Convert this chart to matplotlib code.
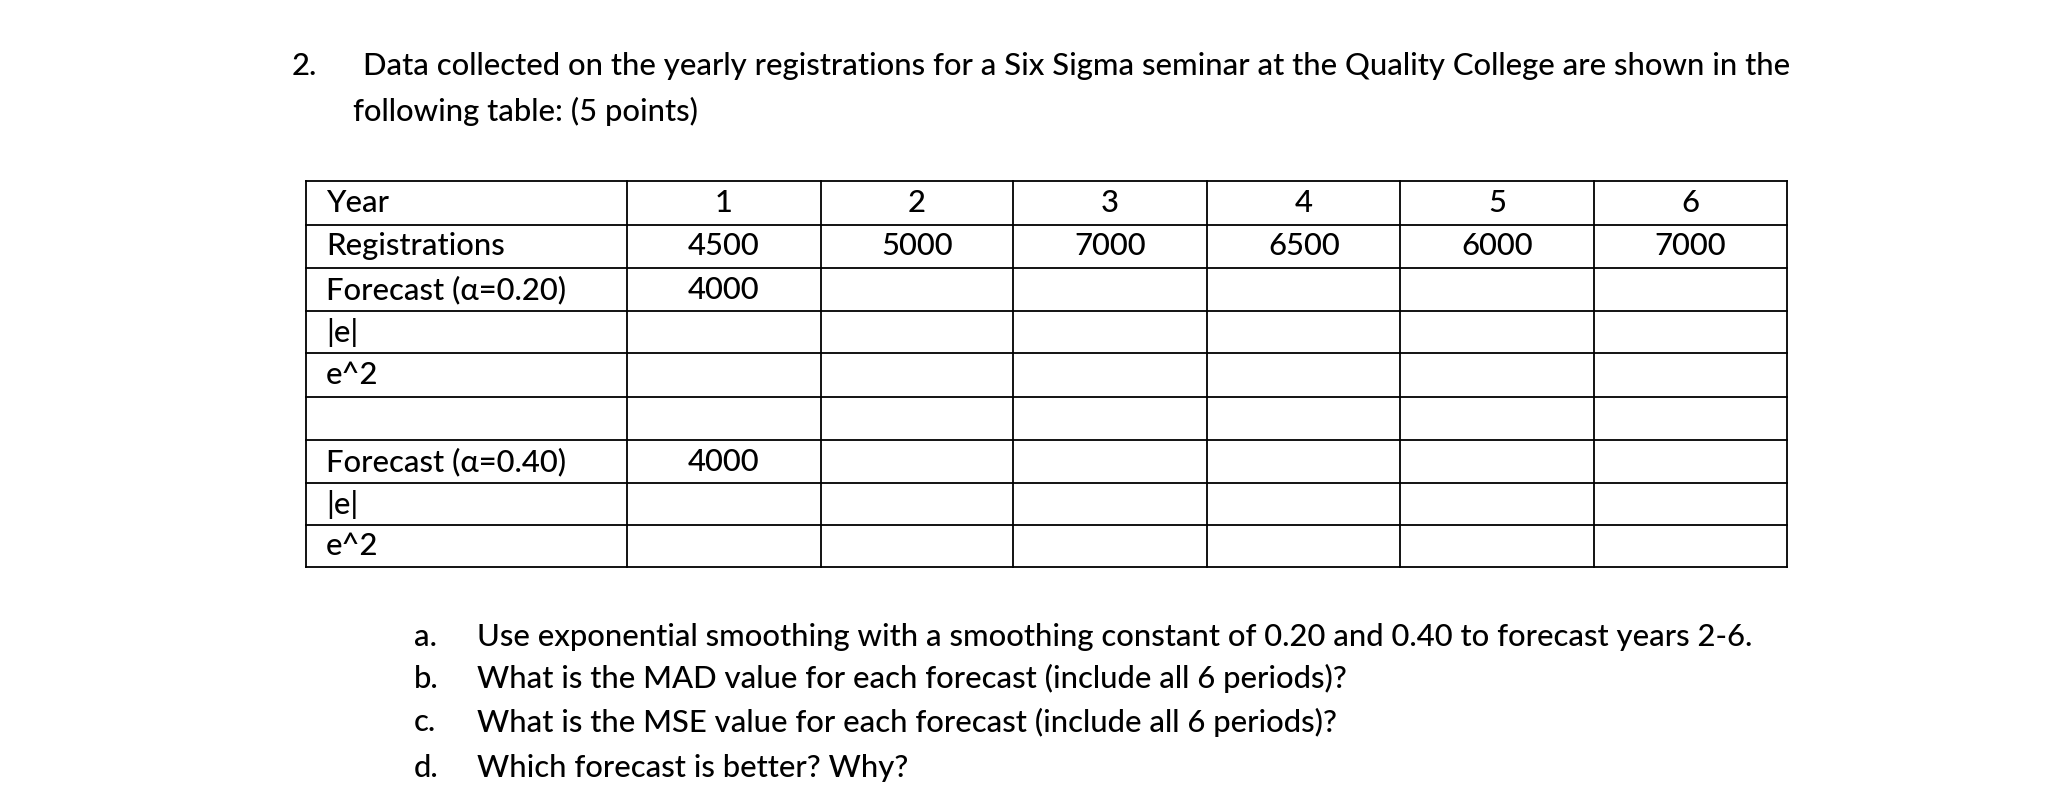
import matplotlib
matplotlib.use("Agg")
import matplotlib.pyplot as plt

plt.rcParams['font.family'] = ['Lato', 'DejaVu Sans']

row_labels = ["Year", "Registrations", "Forecast (α=0.20)", "|e|", "e^2", "",
              "Forecast (α=0.40)", "|e|", "e^2"]
years = ["1", "2", "3", "4", "5", "6"]
registrations = ["4500", "5000", "7000", "6500", "6000", "7000"]
forecast_020 = ["4000", "", "", "", "", ""]
forecast_040 = ["4000", "", "", "", "", ""]
questions = [
    ("a.", "Use exponential smoothing with a smoothing constant of 0.20 and 0.40 to forecast years 2-6."),
    ("b.", "What is the MAD value for each forecast (include all 6 periods)?"),
    ("c.", "What is the MSE value for each forecast (include all 6 periods)?"),
    ("d.", "Which forecast is better? Why?"),
]

W, H = 1568, 610
fig = plt.figure(figsize=(20.60, 8.01), dpi=100)
ax = fig.add_axes([0, 0, 1, 1])
ax.set_xlim(0, W); ax.set_ylim(H, 0); ax.axis('off')

fs = 22.3
kw = dict(fontsize=fs, va='center', fontweight='medium')
ax.text(222, 50, "2.", **kw)
ax.text(276, 50, "Data collected on the yearly registrations for a Six Sigma seminar at the Quality College are shown in the", **kw)
ax.text(269, 85, "following table: (5 points)", **kw)

xs = [233, 477, 625, 771, 919, 1066, 1213, 1360]
ys = [138, 171, 204, 237, 269, 302, 335, 368, 400, 432]
for x in xs:
    ax.plot([x, x], [ys[0], ys[-1]], color='black', lw=1.3)
for y in ys:
    ax.plot([xs[0], xs[-1]], [y, y], color='black', lw=1.3)

rows = [years, registrations, forecast_020, [""] * 6, [""] * 6, [""] * 6,
        forecast_040, [""] * 6, [""] * 6]
for i, (lab, vals) in enumerate(zip(row_labels, rows)):
    yc = (ys[i] + ys[i + 1]) / 2
    ax.text(248, yc, lab, ha='left', **kw)
    for j, v in enumerate(vals):
        ax.text((xs[j + 1] + xs[j + 2]) / 2, yc, v, ha='center', **kw)

qy = [485, 517, 550, 585]
for (l, t), y in zip(questions, qy):
    ax.text(315, y, l, **kw)
    ax.text(363, y, t, **kw)

fig.savefig("out.png", dpi=100, facecolor='white')
